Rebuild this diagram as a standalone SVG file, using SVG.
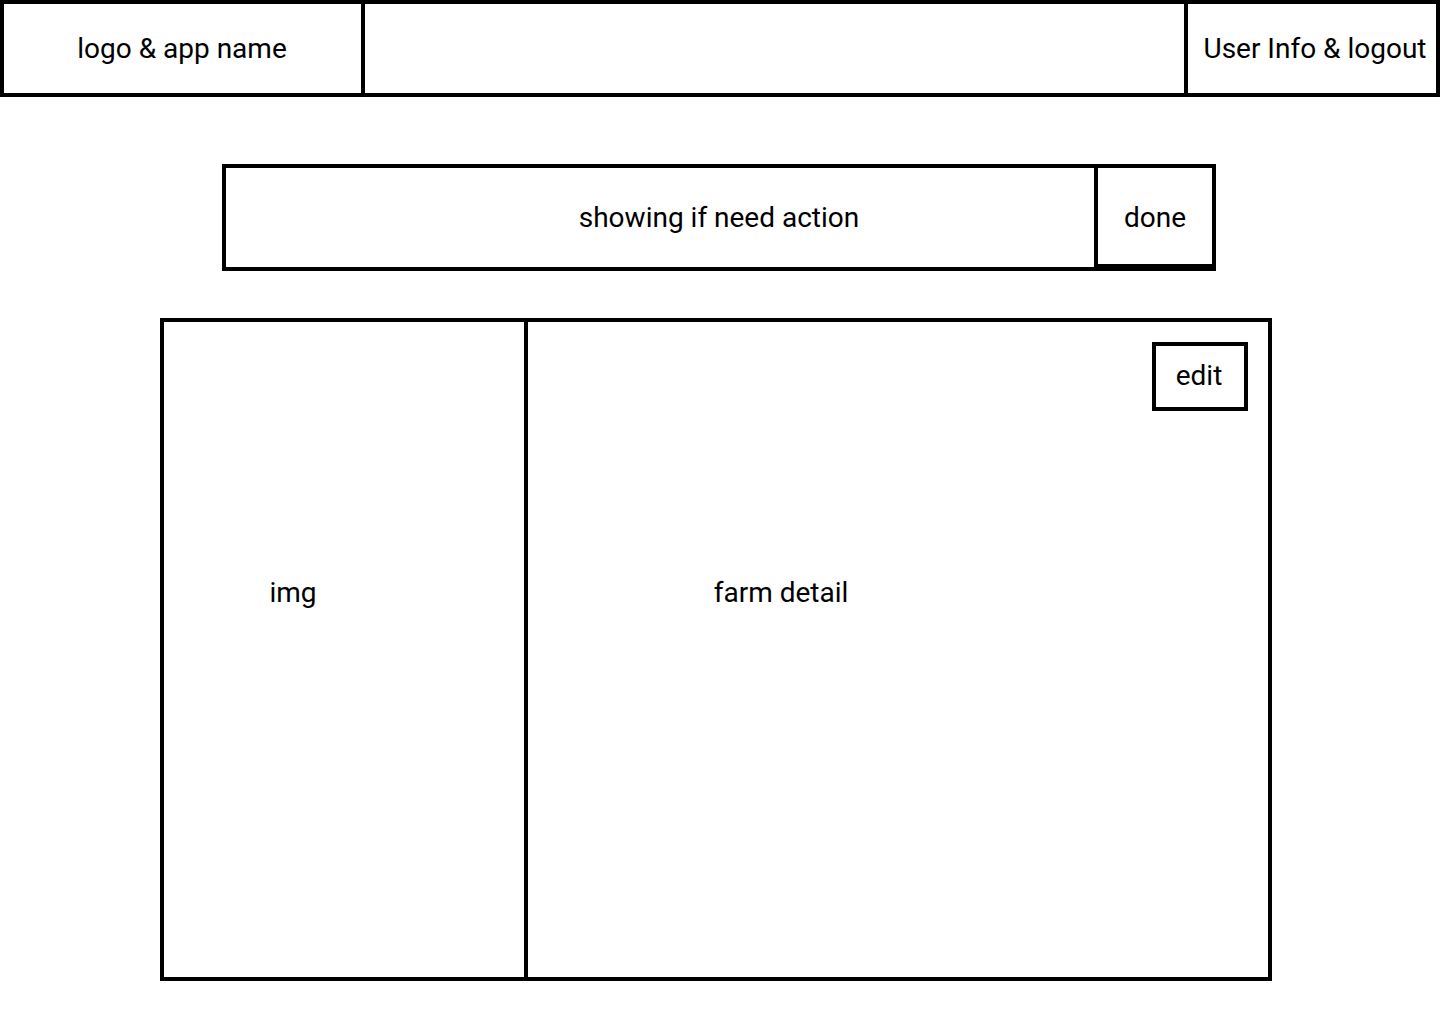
<svg xmlns="http://www.w3.org/2000/svg" width="1440" height="1024" viewBox="0 0 1440 1024">
<style>
.b{fill:#fff;stroke:#000;stroke-width:4}
.l{stroke:#000;stroke-width:4;fill:none}
.t{font-family:Roboto,"Liberation Sans",sans-serif;font-size:28px;fill:#000;text-anchor:middle}
</style>
<rect width="1440" height="1024" fill="#fff"/>
<g id="header">
<rect class="b" x="2" y="2" width="1436" height="93"/>
<line class="l" x1="363" y1="2" x2="363" y2="95"/>
<line class="l" x1="1186" y1="2" x2="1186" y2="95"/>
</g>
<g id="logo"><text class="t" x="182" y="58">logo &amp; app name</text></g>
<g id="user"><text class="t" x="1315" y="58">User Info &amp; logout</text></g>
<g id="action">
<rect class="b" x="224" y="166" width="990" height="103"/>
<text class="t" x="719" y="227">showing if need action</text>
</g>
<g id="done">
<rect class="b" x="1096" y="166" width="118" height="100"/>
<text class="t" x="1155" y="227">done</text>
</g>
<g id="card">
<rect class="b" x="162" y="320" width="1108" height="659"/>
<line class="l" x1="526" y1="320" x2="526" y2="979"/>
</g>
<g id="img"><text class="t" x="293" y="602">img</text></g>
<g id="farm"><text class="t" x="781" y="602">farm detail</text></g>
<g id="edit">
<rect class="b" x="1154" y="344" width="92" height="65"/>
<text class="t" x="1199" y="385">edit</text>
</g>
<g id="connectors"></g>
</svg>
